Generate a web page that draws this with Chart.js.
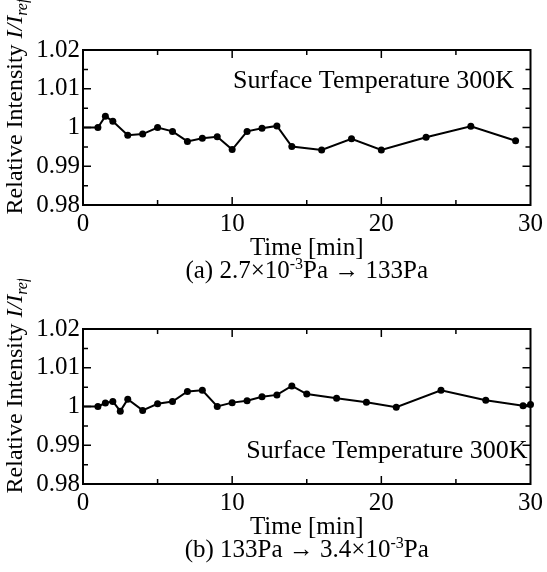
<!DOCTYPE html>
<html>
<head>
<meta charset="utf-8">
<script src="https://cdn.jsdelivr.net/npm/chart.js"></script>
<style>
  body { margin: 0; background: #fff; }
  #wrap { position: relative; width: 547px; height: 572px; }
  canvas { position: absolute; left: 0; }
</style>
</head>
<body>
<div id="wrap">
  <canvas id="chartA" width="547" height="286" style="top:0px"></canvas>
  <canvas id="chartB" width="547" height="286" style="top:279px"></canvas>
</div>
<script>
const FONT = '"Liberation Serif", "Times New Roman", serif';

// (a) 2.7x10^-3 Pa -> 133 Pa
const timeA = [0, 1, 1.5, 2, 3, 4, 5, 6, 7, 8, 9, 10, 11, 12, 13, 14, 16, 18, 20, 23, 26, 29];
const intensityA = [1.0, 1.0, 1.0029, 1.0016, 0.998, 0.9983, 1.0, 0.999, 0.9964, 0.9972, 0.9976,
  0.9943, 0.999, 0.9998, 1.0004, 0.9951, 0.9942, 0.9971, 0.9942, 0.9975, 1.0003, 0.9966];

// (b) 133 Pa -> 3.4x10^-3 Pa
const timeB = [0, 1, 1.5, 2, 2.5, 3, 4, 5, 6, 7, 8, 9, 10, 11, 12, 13, 14, 15, 17, 19, 21, 24, 27, 29.5, 30];
const intensityB = [1.0, 1.0, 1.0009, 1.0013, 0.9988, 1.0019, 0.999, 1.0007, 1.0013, 1.0039, 1.0042,
  1.0, 1.001, 1.0015, 1.0025, 1.003, 1.0053, 1.0032, 1.0021, 1.0011, 0.9998, 1.0042, 1.0016, 1.0002, 1.0005];

const yTicks = [0.98, 0.99, 1, 1.01, 1.02];
const xTicks = [0, 10, 20, 30];
const noteText = "Surface Temperature 300K";
const xTitle = "Time [min]";
const captionA = ["(a) 2.7×10", "-3", "Pa → 133Pa"];
const captionB = ["(b) 133Pa → 3.4×10", "-3", "Pa"];

// texte avec exposant
function drawSupText(ctx, parts, cx, y, size) {
  const big = size + "px " + FONT;
  const small = Math.round(size * 0.62) + "px " + FONT;
  ctx.font = big;
  const w0 = ctx.measureText(parts[0]).width;
  const w2 = ctx.measureText(parts[2]).width;
  ctx.font = small;
  const w1 = ctx.measureText(parts[1]).width;
  let x = cx - (w0 + w1 + w2) / 2;
  ctx.textAlign = "left";
  ctx.font = big;
  ctx.fillText(parts[0], x, y);
  x += w0;
  ctx.font = small;
  ctx.fillText(parts[1], x, y - size * 0.36);
  x += w1;
  ctx.font = big;
  ctx.fillText(parts[2], x, y);
}

const framePlugin = {
  id: "frame",
  afterDatasetsDraw(chart, args, opts) {
    const ctx = chart.ctx;
    const a = chart.chartArea;
    const xs = chart.scales.x, ys = chart.scales.y;
    ctx.save();
    ctx.strokeStyle = "#000";
    ctx.fillStyle = "#000";
    ctx.lineWidth = 2;
    ctx.strokeRect(a.left, a.top, a.right - a.left, a.bottom - a.top);

    // petits traits vers l'interieur
    ctx.lineWidth = 1.5;
    ctx.beginPath();
    for (let v = 5; v < 30; v += 5) {
      const px = xs.getPixelForValue(v);
      const len = v % 10 === 0 ? 8 : 5;
      ctx.moveTo(px, a.bottom); ctx.lineTo(px, a.bottom - len);
      ctx.moveTo(px, a.top); ctx.lineTo(px, a.top + len);
    }
    for (let i = 1; i < 8; i++) {
      const v = 0.98 + i * 0.005;
      const py = ys.getPixelForValue(v);
      const len = i % 2 === 0 ? 8 : 5;
      ctx.moveTo(a.left, py); ctx.lineTo(a.left + len, py);
      ctx.moveTo(a.right, py); ctx.lineTo(a.right - len, py);
    }
    ctx.stroke();

    // annotation
    ctx.font = "26px " + FONT;
    ctx.textAlign = "right";
    ctx.textBaseline = "alphabetic";
    ctx.fillText(noteText, xs.getPixelForValue(opts.noteX), ys.getPixelForValue(opts.noteY));

    // titre Y
    ctx.save();
    ctx.translate(14, (a.top + a.bottom) / 2 - 21);
    ctx.rotate(-Math.PI / 2);
    const f1 = "24px " + FONT, f2 = "italic 24px " + FONT, f3 = "italic 16px " + FONT;
    ctx.font = f1; const wA = ctx.measureText("Relative Intensity ").width;
    ctx.font = f2; const wB = ctx.measureText("I/I").width;
    ctx.font = f3; const wC = ctx.measureText("ref").width;
    let u = -(wA + wB + wC) / 2;
    ctx.textAlign = "left";
    ctx.font = f1; ctx.fillText("Relative Intensity ", u, 8); u += wA;
    ctx.font = f2; ctx.fillText("I/I", u, 8); u += wB;
    ctx.font = f3; ctx.fillText("ref", u, 13);
    ctx.restore();

    // titre X + legende
    const cx = (a.left + a.right) / 2;
    ctx.font = "25px " + FONT;
    ctx.textAlign = "center";
    ctx.fillText(xTitle, cx, a.bottom + 50);
    drawSupText(ctx, opts.caption, cx, a.bottom + 73, 25);
    ctx.restore();
  }
};

function makeChart(id, times, values, note, caption) {
  const ctx = document.getElementById(id).getContext("2d");
  return new Chart(ctx, {
    type: "line",
    data: {
      datasets: [{
        data: times.map((t, i) => ({ x: t, y: values[i] })),
        borderColor: "#000",
        backgroundColor: "#000",
        borderWidth: 2,
        pointRadius: (c) => (c.dataIndex === 0 ? 0 : 3.5),
        pointBackgroundColor: "#000",
        pointBorderWidth: 0,
        tension: 0,
        clip: false,
      }],
    },
    options: {
      responsive: false,
      animation: false,
      layout: { padding: { top: 50, right: 15, left: 0, bottom: 0 } },
      plugins: {
        legend: { display: false },
        tooltip: { enabled: false },
        frame: { noteX: note[0], noteY: note[1], caption: caption },
      },
      scales: {
        x: {
          type: "linear",
          min: 0, max: 30,
          afterBuildTicks: (s) => { s.ticks = xTicks.map((v) => ({ value: v })); },
          afterFit: (s) => { s.height = 81; },
          grid: { display: false, drawTicks: false },
          border: { display: false },
          ticks: { font: { family: FONT, size: 25 }, color: "#000", padding: 4, maxRotation: 0 },
        },
        y: {
          min: 0.98, max: 1.02,
          afterBuildTicks: (s) => { s.ticks = yTicks.map((v) => ({ value: v })); },
          afterFit: (s) => { s.width = 83; },
          grid: { display: false, drawTicks: false },
          border: { display: false },
          ticks: {
            font: { family: FONT, size: 25 }, color: "#000", padding: 3,
            callback: (v) => String(+v.toFixed(2)),
          },
        },
      },
    },
    plugins: [framePlugin],
  });
}

makeChart("chartA", timeA, intensityA, [28.9, 1.0101], captionA);
makeChart("chartB", timeB, intensityB, [29.8, 0.9868], captionB);
</script>
</body>
</html>
